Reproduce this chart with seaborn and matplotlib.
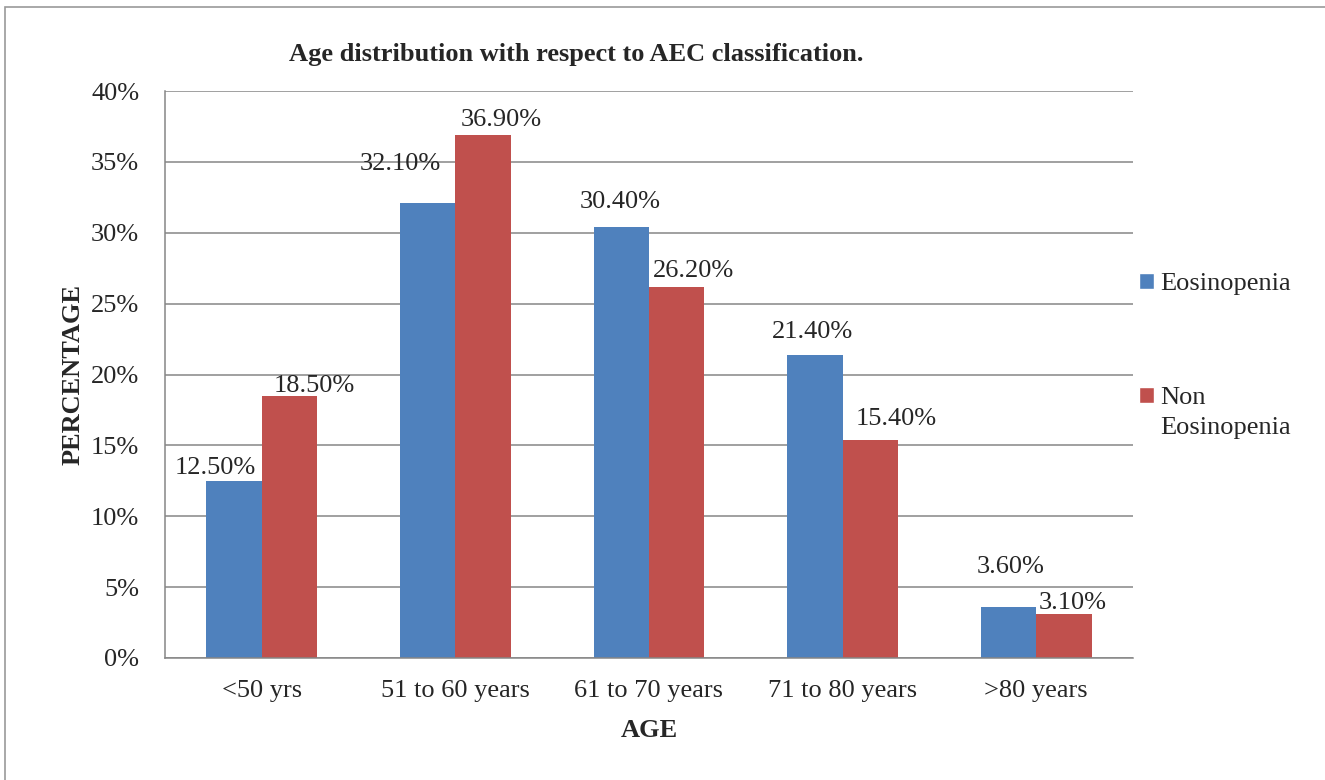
import numpy as np
import pandas as pd
import matplotlib.pyplot as plt
import seaborn as sns
from matplotlib.patches import Rectangle, Patch
from matplotlib.ticker import MultipleLocator, FuncFormatter

# ── Data ───────────────────────────────────────────────────────────────────
AGE_GROUPS      = ["<50 yrs", "51 to 60 years", "61 to 70 years",
                   "71 to 80 years", ">80 years"]
EOSINOPENIA     = [12.5, 32.1, 30.4, 21.4, 3.6]
NON_EOSINOPENIA = [18.5, 36.9, 26.2, 15.4, 3.1]
SERIES          = ["Eosinopenia", "Non Eosinopenia"]
LEGEND_LABELS   = ["Eosinopenia", "Non\nEosinopenia"]

# ── Style ──────────────────────────────────────────────────────────────────
COLORS = ["#4F81BD", "#C0504D"]
GRID   = "#868686"
FS     = 19
# labels were hand-placed in the original, offsets in px from bar top centre
LABEL_OFFSETS = [
    [(-19, 14), (-27, 40), (-1, 26), (-2, 24), (2, 41)],
    [(25, 11), (18, 16), (17, 17), (26, 22), (9, 12)],
]

sns.set_style("white")
plt.rcParams["font.family"] = ["Liberation Serif", "DejaVu Serif"]

df = pd.DataFrame({
    "age":   AGE_GROUPS * 2,
    "pct":   EOSINOPENIA + NON_EOSINOPENIA,
    "group": [SERIES[0]] * len(AGE_GROUPS) + [SERIES[1]] * len(AGE_GROUPS),
})

W, H = 1325, 780
fig = plt.figure(figsize=(W / 100, H / 100), dpi=100)
ax = fig.add_axes([165 / W, 1 - 658 / H, (1133 - 165) / W, (658 - 91) / H])

sns.barplot(data=df, x="age", y="pct", hue="group", order=AGE_GROUPS,
            hue_order=SERIES, palette=COLORS, saturation=1, width=0.573,
            errorbar=None, legend=False, linewidth=0, ax=ax)

ax.set_xlim(-0.5, len(AGE_GROUPS) - 0.5)
ax.set_ylim(0, 40)
ax.yaxis.set_major_locator(MultipleLocator(5))
ax.yaxis.set_major_formatter(FuncFormatter(lambda v, _: f"{v:.0f}%"))
ax.grid(axis="y", color=GRID, lw=1.1)
ax.set_axisbelow(True)
for s in ["top", "right"]:
    ax.spines[s].set_visible(False)
for s in ["left", "bottom"]:
    ax.spines[s].set_color(GRID)
    ax.spines[s].set_linewidth(1.1)

ax.tick_params(axis="y", length=4.5, width=1.1, color=GRID, pad=14, labelsize=FS)
ax.set_xticks(np.arange(-0.5, len(AGE_GROUPS), 1), minor=True)
ax.tick_params(axis="x", which="minor", length=5, width=1.1, color=GRID)
ax.tick_params(axis="x", which="major", length=0, pad=16, labelsize=FS)

ax.set_xlabel("AGE", fontsize=FS, fontweight="bold", labelpad=12)
ax.set_ylabel("PERCENTAGE", fontsize=FS, fontweight="bold", labelpad=5)

# data labels
for cont, vals, offs in zip(ax.containers, [EOSINOPENIA, NON_EOSINOPENIA], LABEL_OFFSETS):
    for bar, v, (dx, dy) in zip(cont, vals, offs):
        ax.annotate(f"{v:.2f}%", (bar.get_x() + bar.get_width() / 2, bar.get_height()),
                    xytext=(dx, dy - 1), textcoords="offset pixels",
                    ha="center", va="center", fontsize=FS)

fig.text(576 / W, 1 - 55 / H, "Age distribution with respect to AEC classification.",
         ha="center", va="center", fontsize=FS, fontweight="bold")

handles = [Patch(facecolor=c) for c in COLORS]
leg = fig.legend(handles, LEGEND_LABELS, loc="upper left",
                 bbox_to_anchor=(1139 / W, 1 - 273 / H), frameon=False,
                 fontsize=FS, handlelength=0.55, handleheight=0.55,
                 handletextpad=0.25, labelspacing=3.5, borderpad=0,
                 borderaxespad=0)
for t in leg.get_texts():
    t.set_linespacing(1.45)
for col in leg._legend_handle_box.get_children():
    for item in col.get_children():
        item.align = "top"

# outer frame like the pasted chart object
fig.add_artist(Rectangle((5 / W, -0.1), 1.2, 1 - 7 / H + 0.1,
                         transform=fig.transFigure, fill=False,
                         ec="#9a9a9a", lw=1.2))

fig.savefig("out.png", dpi=100)
